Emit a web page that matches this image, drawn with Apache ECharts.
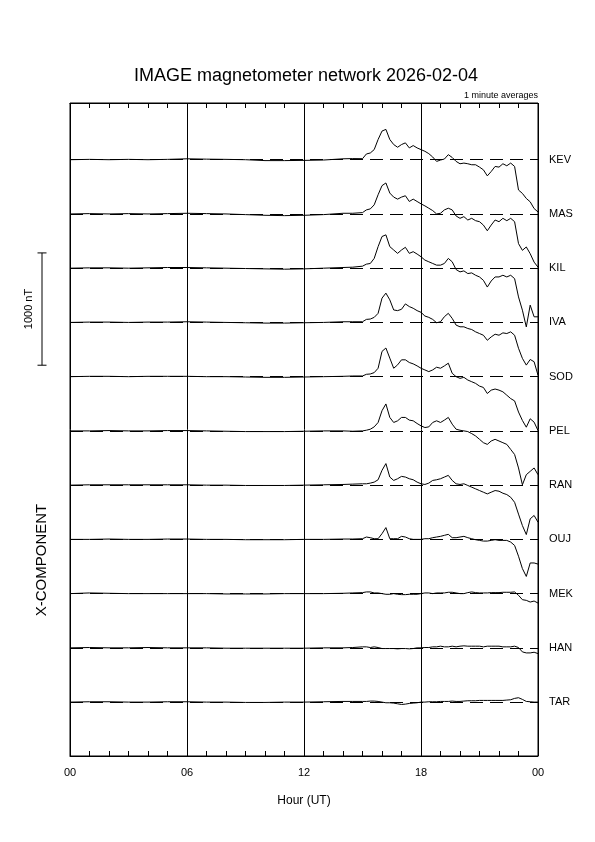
<!DOCTYPE html>
<html>
<head>
<meta charset="utf-8">
<script src="https://cdn.jsdelivr.net/npm/echarts@6/dist/echarts.min.js"></script>
<style>
  html, body { margin: 0; padding: 0; background: #fff; }
  #main { width: 595px; height: 842px; }
</style>
</head>
<body>
<div id="main"></div>
<script>
  // time of each sample, hours UT
  const hours = [0, 1, 2, 3, 4, 5, 6, 7, 8, 9, 10, 11, 12, 13, 14, 14.5,
    15, 15.2, 15.4, 15.6, 15.8, 16, 16.2, 16.4, 16.6, 16.8, 17, 17.2, 17.4, 17.6, 17.8,
    18, 18.2, 18.4, 18.6, 18.8, 19, 19.2, 19.4, 19.6, 19.8, 20, 20.2, 20.4, 20.6, 20.8,
    21, 21.2, 21.4, 21.6, 21.8, 22, 22.2, 22.4, 22.6, 22.8, 23, 23.2, 23.4, 23.6, 23.8, 24];
  const hourLabels = ['00', '06', '12', '18', '00'];
  const stations = ['KEV', 'MAS', 'KIL', 'IVA', 'SOD', 'PEL', 'RAN', 'OUJ', 'MEK', 'HAN', 'TAR'];

  // X component, nT relative to each station's baseline
  const kev = [0, 3, 0, 3, 0, 3, 8, 5, 3, 0, -8, -8, -6, -3, 8, 10,
    9, 51, 60, 90, 180, 255, 270, 180, 135, 111, 135, 150, 105, 126, 105,
    90, 75, 54, 24, -15, -3, 6, 45, 20, -15, -36, -30, -36, -45, -45,
    -66, -90, -144, -105, -60, -66, -36, -54, -30, -60, -270, -300, -345, -375, -435, -465];
  const mas = [0, 3, 0, 3, 0, 3, 6, 3, 0, -6, -12, -15, -12, -6, 6, 6,
    12, 36, 45, 81, 171, 252, 276, 186, 150, 132, 150, 162, 111, 132, 111,
    90, 72, 51, 30, 0, 6, 36, 51, 36, -18, -39, -24, -54, -39, -60,
    -69, -99, -150, -99, -54, -69, -39, -60, -39, -69, -264, -324, -294, -354, -429, -474];
  const kil = [0, 3, 3, 0, 3, 6, 6, 3, 0, -3, -6, -9, -6, 0, 6, 9,
    18, 36, 42, 87, 192, 282, 297, 192, 162, 132, 162, 186, 132, 147, 126,
    102, 72, 57, 42, 27, 27, 42, 87, 57, -12, -33, -24, -48, -42, -63,
    -78, -108, -168, -114, -78, -78, -63, -78, -63, -93, -256, -374, -523, -329, -433, -433];
  const iva = [0, 3, 3, 0, 3, 3, 6, 3, 0, -3, -6, -6, -3, 0, 6, 6,
    6, 27, 30, 45, 81, 216, 261, 201, 111, 105, 117, 165, 141, 126, 105,
    90, 57, 45, 27, -3, 6, 51, 81, 36, -24, -39, -39, -54, -63, -84,
    -99, -114, -159, -129, -105, -114, -93, -99, -84, -114, -230, -320, -380, -330, -350, -470];
  const sod = [0, 3, 3, 0, 3, 3, 3, 0, 0, -3, -6, -6, -3, 0, 3, 6,
    6, 21, 24, 36, 75, 225, 255, 165, 75, 105, 150, 150, 126, 114, 96,
    75, 60, 45, 60, 84, 75, 96, 120, 30, 0, -15, -6, -30, -45, -60,
    -84, -96, -150, -120, -110, -120, -135, -165, -195, -216, -315, -390, -450, -375, -405, -480];
  const pel = [0, 0, 3, 0, 0, 3, 3, 0, -3, -6, -6, -6, -3, 0, 0, -3,
    0, 6, 15, 36, 75, 180, 240, 120, 75, 90, 120, 120, 96, 90, 66,
    45, 30, 36, 75, 90, 75, 96, 120, 60, 15, 6, 0, -6, -24, -45,
    -75, -105, -120, -90, -75, -90, -105, -120, -165, -210, -330, -480, -390, -360, -330, -390];
  const ran = [0, 3, 3, 3, 3, 3, 3, 0, 0, -3, -3, -3, 0, 3, 6, 9,
    12, 12, 18, 27, 48, 132, 192, 72, 42, 57, 78, 72, 57, 48, 27,
    12, 6, 18, 42, 48, 57, 72, 87, 42, 12, 6, 12, -3, -18, -33,
    -48, -63, -78, -63, -48, -54, -72, -84, -108, -153, -258, -360, -440, -300, -270, -330];
  const ouj = [0, 0, 3, 0, 0, 3, 3, 0, 0, -3, -3, -3, 0, 0, 3, 3,
    6, 21, 15, 6, 6, 51, 105, 6, 6, 6, 27, 21, 6, 0, 0,
    0, 6, 6, 15, 21, 27, 36, 45, 15, 15, 21, 27, 15, 6, -3,
    -9, -15, -15, -9, -3, -9, -9, -9, -24, -54, -150, -260, -330, -210, -210, -220];
  const mek = [0, 6, 3, 0, 0, 0, 0, 0, -3, -3, -3, 0, 0, 0, 3, 6,
    9, 15, 15, 6, 6, 0, -6, -6, 0, -6, -9, -9, -6, -6, -6,
    0, 6, 6, 0, 6, 6, 6, 12, 12, 6, 0, 0, 9, 15, 9,
    6, 6, 6, 9, 9, 9, 12, 12, 12, 15, -15, -54, -60, -75, -66, -84];
  const han = [0, 3, 0, 0, 3, 0, 0, 0, -3, -3, -3, -3, -3, 0, 0, 3,
    9, 9, 3, 9, 3, -6, -6, -6, -6, -9, -6, -6, -9, -6, 0,
    0, 3, 3, 9, 9, 15, 9, 9, 15, 9, 15, 18, 15, 15, 15,
    15, 9, 15, 15, 15, 15, 9, 9, 9, 15, 3, -36, -45, -45, -39, -51];
  const tar = [0, 3, 3, 0, 0, 3, 3, 0, 0, -3, -3, 0, 0, 3, 6, 6,
    6, 6, 9, 9, 6, 0, -6, -6, -9, -15, -21, -18, -12, -9, -6,
    0, 0, 3, 3, 3, 6, 6, 6, 9, 6, 6, 9, 12, 12, 12,
    15, 15, 15, 15, 15, 15, 15, 18, 21, 33, 39, 24, 6, 3, 0, 0];
  const stationValues = [kev, mas, kil, iva, sod, pel, ran, ouj, mek, han, tar];
  const scaleBarNT = 1000;

  const FONT = '"Liberation Sans", Arial, Helvetica, sans-serif';
  const SPACING = 483;          // nT between station baselines
  const Y_MAX = 505;
  const Y_MIN = -5310;
  const BAR_TOP = -830;         // where the scale bar starts

  let myChart = echarts.init(document.getElementById('main'), null, { renderer: 'canvas' });

  const series = stations.map((name, i) => {
    const base = -i * SPACING;
    return {
      name: name,
      type: 'line',
      xAxisIndex: 0,
      yAxisIndex: 0,
      data: hours.map((h, k) => [h, base + stationValues[i][k]]),
      symbol: 'none',
      lineStyle: { color: '#000', width: 1 },
      markLine: {
        silent: true,
        symbol: 'none',
        lineStyle: { color: '#000', width: 1, type: [13, 7] },
        label: {
          show: true, position: 'end', distance: 11, formatter: name,
          color: '#000', fontSize: 11, fontFamily: FONT
        },
        data: [{ yAxis: base }]
      }
    };
  });

  // 1000 nT scale bar, same vertical scale as the traces
  series.push({
    type: 'line',
    xAxisIndex: 2,
    yAxisIndex: 1,
    data: [[1, BAR_TOP], [1, BAR_TOP - scaleBarNT]],
    symbol: 'rect',
    symbolSize: [9, 1],
    showSymbol: true,
    itemStyle: { color: '#000' },
    lineStyle: { color: '#000', width: 1 }
  });

  const tickStyle = { color: '#000', width: 1 };

  myChart.setOption({
    animation: false,
    backgroundColor: '#fff',
    grid: [
      { left: 70, right: 57, top: 103, bottom: 86, show: true, borderColor: '#000', borderWidth: 1,
        backgroundColor: 'transparent', outerBoundsMode: 'none' },
      { left: 30, width: 24, top: 103, bottom: 86, outerBoundsMode: 'none' }
    ],
    xAxis: [
      {
        gridIndex: 0, type: 'value', min: 0, max: 24, interval: 6, position: 'bottom',
        axisLine: { show: true, onZero: false, lineStyle: tickStyle },
        axisTick: { show: true, inside: true, length: 5, lineStyle: tickStyle },
        minorTick: { show: true, splitNumber: 6, length: 5, lineStyle: tickStyle },
        splitLine: { show: true, lineStyle: tickStyle },
        axisLabel: {
          color: '#000', fontSize: 11, fontFamily: FONT, margin: 11,
          formatter: v => hourLabels[Math.round(v / 6)]
        },
        name: 'Hour (UT)', nameLocation: 'middle', nameGap: 39,
        nameTextStyle: { color: '#000', fontSize: 12, fontFamily: FONT }
      },
      {
        gridIndex: 0, type: 'value', min: 0, max: 24, interval: 6, position: 'top',
        axisLine: { show: true, onZero: false, lineStyle: tickStyle },
        axisTick: { show: true, inside: true, length: 5, lineStyle: tickStyle },
        minorTick: { show: true, splitNumber: 6, length: 5, lineStyle: tickStyle },
        splitLine: { show: false },
        axisLabel: { show: false }
      },
      { gridIndex: 1, type: 'value', min: 0, max: 2, show: false }
    ],
    yAxis: [
      { gridIndex: 0, type: 'value', min: Y_MIN, max: Y_MAX, show: false },
      { gridIndex: 1, type: 'value', min: Y_MIN, max: Y_MAX, show: false }
    ],
    graphic: [
      { type: 'text', x: 306, y: 76,
        style: { text: 'IMAGE magnetometer network 2026-02-04', fill: '#000', font: '18px ' + FONT,
          textAlign: 'center', textVerticalAlign: 'middle', align: 'center', verticalAlign: 'middle' } },
      { type: 'text', x: 538, y: 96,
        style: { text: '1 minute averages', fill: '#000', font: '9px ' + FONT,
          textAlign: 'right', textVerticalAlign: 'middle', align: 'right', verticalAlign: 'middle' } },
      { type: 'text', x: 29, y: 309, rotation: Math.PI / 2,
        style: { text: scaleBarNT + ' nT', fill: '#000', font: '11px ' + FONT,
          textAlign: 'center', textVerticalAlign: 'middle', align: 'center', verticalAlign: 'middle' } },
      { type: 'text', x: 42, y: 560, rotation: Math.PI / 2,
        style: { text: 'X-COMPONENT', fill: '#000', font: '15px ' + FONT,
          textAlign: 'center', textVerticalAlign: 'middle', align: 'center', verticalAlign: 'middle' } }
    ],
    series: series
  });
</script>
</body>
</html>
